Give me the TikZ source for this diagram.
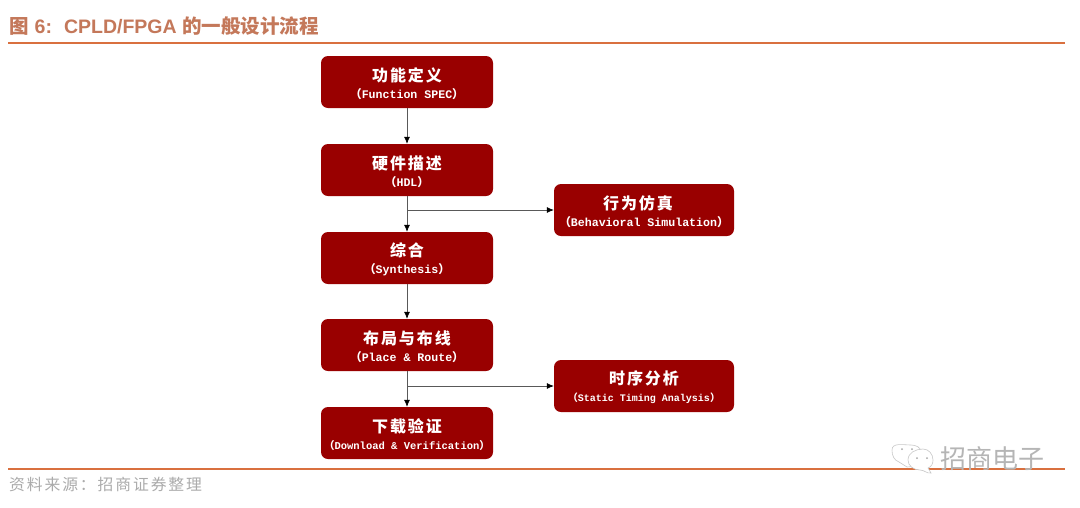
\documentclass[tikz,border=0pt]{standalone}
\usepackage{fontspec}
\setmainfont{Liberation Sans}
\newfontfamily\cjk{Noto Sans CJK SC}
\newfontfamily\cjkbox[LetterSpace=12]{Noto Sans CJK SC}
\newfontfamily\latbox{Liberation Mono}[BoldFont={Liberation Mono Bold}]
\definecolor{boxred}{HTML}{990000}
\definecolor{linecolour}{HTML}{D9703F}
\definecolor{titlecol}{HTML}{C4785A}
\definecolor{footcol}{HTML}{ABABAB}
\definecolor{wmcol}{HTML}{B5B5B5}
\usetikzlibrary{arrows.meta}
\tikzset{
  x=1pt,y=-1pt,
  flowbox/.style={draw=none,fill=boxred,rounded corners=7pt,text=white,align=center,minimum height=52pt,inner sep=0pt},
  mainbox/.style={flowbox,minimum width=172pt},
  sidebox/.style={flowbox,minimum width=180pt},
  flow/.style={draw=black!65,line width=0.7pt,-{Latex[length=7pt,width=6pt,color=black]}},
  rulel/.style={draw=linecolour,line width=1.1pt},
  bubble/.style={draw=black!22,line width=0.6pt,fill=white},
  dotw/.style={fill=black!35,draw=none,circle,minimum size=2pt,inner sep=0pt},
}
% #1 latin size, #2 chinese line, #3 latin line
\newcommand{\boxtxt}[3]{\rule{0pt}{17pt}{\fontsize{16}{19}\cjkbox\bfseries #2}\\[5pt]{\fontsize{#1}{13}\selectfont{\cjk\bfseries （}\latbox\bfseries #3{\cjk\bfseries ）}}}
\begin{document}
\begin{tikzpicture}
\useasboundingbox (0,0) rectangle (1080,507);
\fill[white] (0,0) rectangle (1080,507);
% rules
\coordinate (tl) at (8,43);
\coordinate (tr) at (1065,43);
\coordinate (bl) at (8,469);
\coordinate (br) at (1065,469);
\draw[rulel] (tl) -- (tr);
\draw[rulel] (bl) -- (br);
% title and source
\node[anchor=west,inner sep=0pt,text=titlecol] (title) at (9,26)
  {\fontsize{19.5}{22}\selectfont{\cjk\bfseries 图}\hspace{6pt}\bfseries 6:\hspace{12pt}CPLD/FPGA {\cjk\bfseries 的一般设计流程}};
\node[anchor=west,inner sep=0pt,text=footcol] (source) at (9,484.5)
  {\fontsize{15.8}{18}\cjkbox 资料来源：招商证券整理};
% main column
\node[mainbox] (a) at (407,82)  {\boxtxt{11.6}{功能定义}{Function SPEC}};
\node[mainbox] (b) at (407,170) {\boxtxt{11.6}{硬件描述}{HDL}};
\node[mainbox] (c) at (407,258) {\boxtxt{11.6}{综合}{Synthesis}};
\node[mainbox] (d) at (407,345) {\boxtxt{11.6}{布局与布线}{Place \& Route}};
\node[mainbox] (e) at (407,433) {\boxtxt{10.5}{下载验证}{Download \& Verification}};
% side column
\node[sidebox] (r1) at (644,210) {\boxtxt{11.6}{\hspace*{-12pt}行为仿真}{Behavioral Simulation}};
\node[sidebox] (r2) at (644,386) {\boxtxt{10}{时序分析}{Static Timing Analysis}};
% connectors
\draw[flow] (a) -- (b);
\draw[flow] (b) -- (c);
\draw[flow] (c) -- (d);
\draw[flow] (d) -- (e);
\draw[flow] (b.south |- r1.west) -- (r1.west);
\draw[flow] (d.south |- r2.west) -- (r2.west);
% watermark
\draw[bubble] (907,467) -- (899,462) to[out=160,in=-90] (892,450)
  to[out=90,in=180] (911,445) to[out=0,in=90] (921,452) -- (918,466) -- cycle;
\draw[bubble] (931,473) to[out=-170,in=0] (920,470)
  to[out=180,in=-90] (908,460) to[out=90,in=180] (923,449)
  to[out=0,in=90] (933,460) to[out=-90,in=20] (928,468) -- cycle;
\node[dotw] (w1) at (902,449) {};
\node[dotw] (w2) at (912,449) {};
\node[dotw] (w3) at (917,458) {};
\node[dotw] (w4) at (927,458) {};
\node[anchor=west,inner sep=0pt,text=wmcol] (wm) at (940,458.5)
  {\fontsize{26}{28}\cjk 招商电子};
\end{tikzpicture}
\end{document}
